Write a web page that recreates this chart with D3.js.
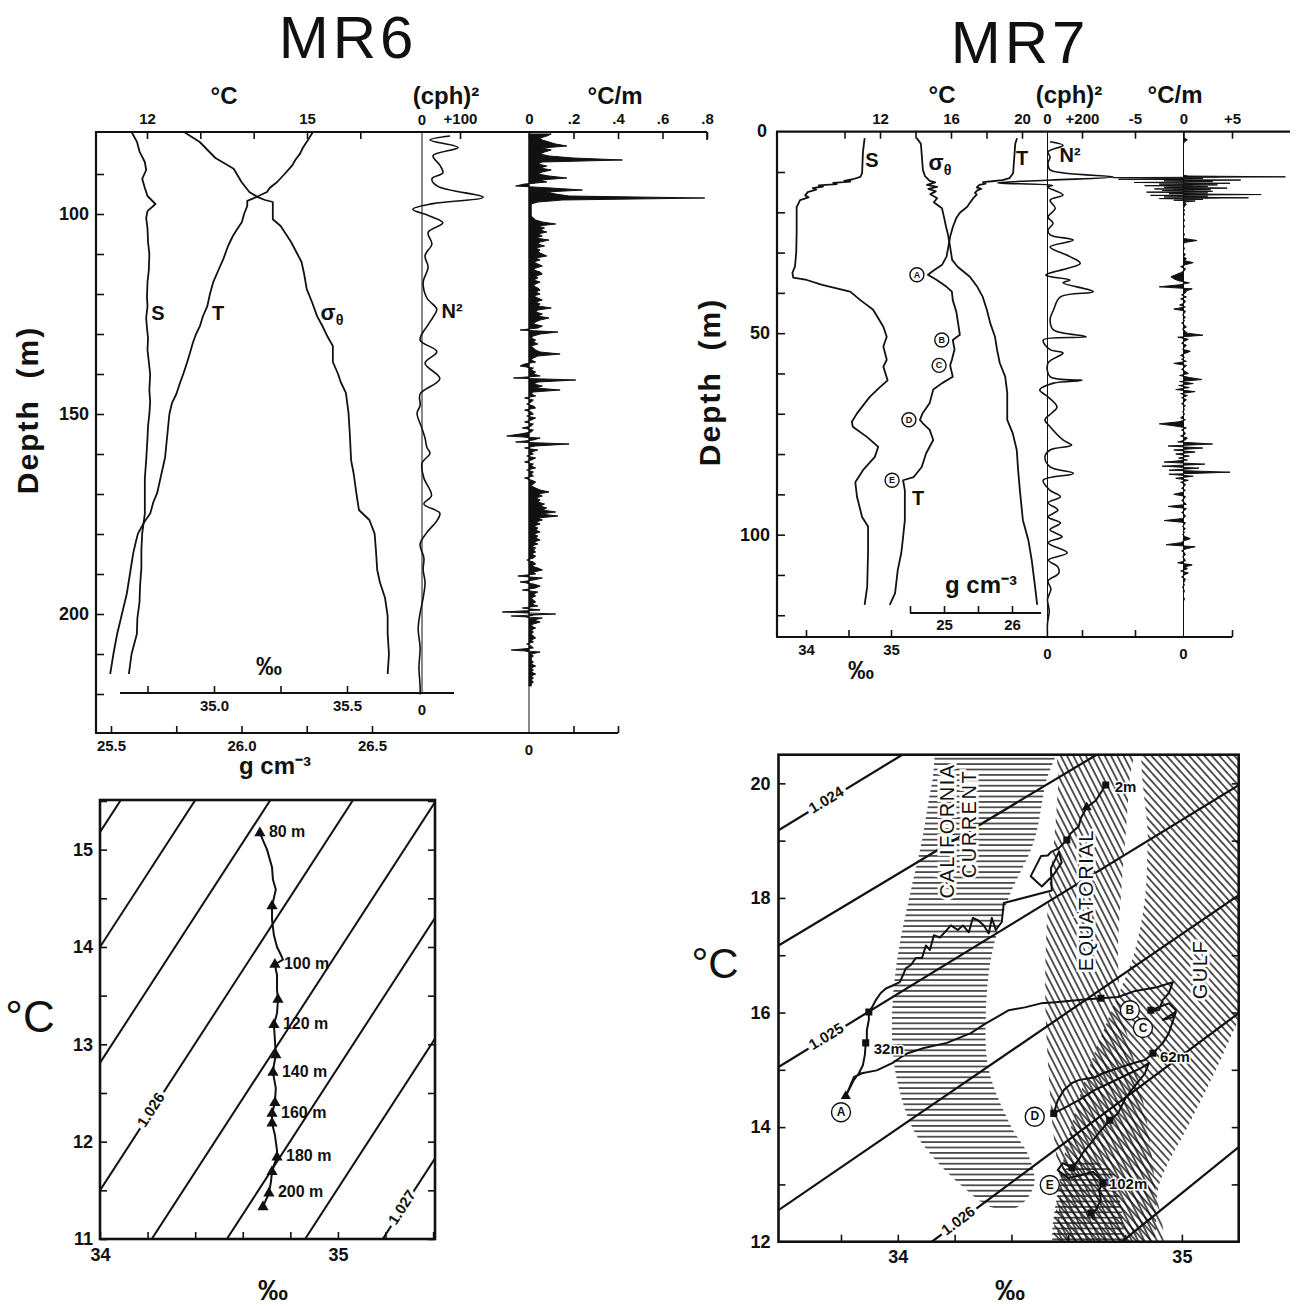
<!DOCTYPE html>
<html>
<head>
<meta charset="utf-8">
<script src="https://cdn.jsdelivr.net/npm/d3@7/dist/d3.min.js"></script>
<style>
  body { margin: 0; background: #fff; }
  text { font-family: "Liberation Sans", Arial, Helvetica, sans-serif; fill: #111; }
</style>
</head>
<body>
<svg id="fig"></svg>
<script>
const INK = '#111';
const W = 1299, H = 1306;

// ---------- MR6 profiles : [depth m, value] ----------
const mr6Temp = [
  [79.5, 15.11], [81.9, 15.0], [83.5, 14.92], [84.9, 14.87], [86.5, 14.78], [87.9, 14.72],
  [90, 14.58], [92, 14.44], [93.5, 14.3], [94.5, 14.25], [95.7, 14.06], [96.7, 13.88],
  [98, 13.88], [100, 13.82], [102, 13.78], [104, 13.68], [105.5, 13.61], [108, 13.52],
  [111.3, 13.43], [114, 13.34], [117.1, 13.24], [120, 13.18], [123.1, 13.13], [125.5, 13.05],
  [128.1, 12.99], [130, 12.92], [132.2, 12.86], [135, 12.8], [137.2, 12.75], [140, 12.68],
  [142.2, 12.62], [145, 12.55], [147.2, 12.47], [150, 12.42], [154, 12.39], [158, 12.36],
  [160.8, 12.34], [165, 12.27], [169.8, 12.19], [172, 12.12], [174.9, 12.06], [177, 11.95],
  [179.9, 11.83], [182, 11.79], [184.9, 11.74], [190, 11.68], [195, 11.62], [200, 11.53],
  [205, 11.44], [210, 11.37], [215, 11.31]
];
const mr6Sal = [
  [79.5, 34.69], [81.9, 34.71], [84.4, 34.72], [87, 34.74], [89, 34.745], [91.2, 34.73],
  [93.5, 34.74], [95.5, 34.75], [97.5, 34.78], [99.3, 34.75], [101, 34.745], [103.6, 34.75],
  [107, 34.752], [110, 34.757], [114, 34.755], [117, 34.75], [120.6, 34.748], [123.1, 34.75],
  [126, 34.745], [128.5, 34.748], [131, 34.752], [134, 34.75], [137, 34.755], [140, 34.76],
  [144, 34.757], [147, 34.76], [150, 34.757], [153, 34.752], [156, 34.75], [161.6, 34.745],
  [166, 34.74], [170, 34.74], [174.9, 34.74], [179.9, 34.73], [184, 34.727], [188.5, 34.727],
  [193, 34.722], [197, 34.72], [201, 34.712], [205, 34.71], [210, 34.69], [215, 34.68]
];
const mr6Sigma = [
  [79.5, 25.78], [82, 25.84], [84, 25.87], [86, 25.9], [88.7, 25.97], [92, 26.0],
  [94.5, 26.03], [95.7, 26.06], [96.5, 26.09], [97, 26.12], [98, 26.12], [101.3, 26.12],
  [103, 26.15], [105, 26.17], [107, 26.19], [109.5, 26.21], [112, 26.23], [115, 26.24],
  [118.8, 26.25], [122, 26.27], [125.6, 26.29], [128, 26.31], [130.7, 26.33], [133, 26.35],
  [137, 26.35], [140, 26.37], [142, 26.38], [144.7, 26.4], [149.7, 26.41], [155, 26.415],
  [161.6, 26.42], [165, 26.43], [169.8, 26.44], [174, 26.45], [176.5, 26.49], [179.9, 26.51],
  [184, 26.515], [189, 26.52], [192, 26.53], [196, 26.55], [200.5, 26.56], [205, 26.56],
  [210, 26.565], [215, 26.56]
];
const mr6N2 = [
  [80.5, 74], [81.5, 21], [83.4, 95], [85.4, 29], [87.8, 47], [89.7, 55], [91.2, 26],
  [93.1, 42], [95.8, 161], [97.4, 29], [98.8, -24], [100.5, 20], [102.2, 55], [104.6, 16],
  [107.5, 26], [110.4, 8], [113.3, 16], [117.1, 3], [121, 13], [123.8, 39], [125.8, 29],
  [127.7, 16], [131.5, -5], [134.4, 39], [137.3, 8], [141.2, 47], [145, -5], [147.9, -5],
  [149.8, -13], [153.6, 0], [156, 8], [158.4, 13], [159.8, 21], [162.3, 0], [166, 5],
  [170.4, 25], [172.5, 5], [174.8, 47], [176.7, 39], [179.6, 13], [182.5, -5], [186, 5],
  [189, 3], [192.1, 8], [196, 3], [199.8, -5], [203.6, -10], [208.5, -5], [213.3, -8],
  [218.1, -5], [220.1, -5]
];
// temperature gradient, °C/m, sampled every 0.5 m from 80 m
const mr6GradStart = 80, mr6GradStep = 0.5;
const mr6Grad = [
  0.10, 0.08, 0.05, 0.06, 0.09, 0.12, 0.17, 0.06, 0.10, 0.07,
  0.05, 0.09, 0.20, 0.42, 0.06, 0.04, 0.08, 0.05, 0.10, 0.06,
  0.04, 0.09, 0.17, 0.05, 0.08, -0.02, -0.06, 0.10, 0.24, 0.08,
  0.12, 0.18, 0.79, 0.15, 0.04, 0.01, 0.01, 0.01, 0.01, 0.01,
  0.01, 0.01, 0.02, 0.03, 0.06, 0.12, 0.04, 0.07, 0.05, 0.08,
  0.04, 0.06, 0.03, 0.09, 0.05, 0.04, 0.07, 0.03, 0.05, 0.04,
  0.06, 0.08, 0.03, 0.05, 0.02, 0.04, 0.06, 0.03, 0.02, 0.05,
  0.06, 0.03, 0.04, 0.02, 0.05, 0.03, 0.02, 0.04, 0.05, 0.03,
  0.05, 0.02, 0.04, 0.06, 0.03, 0.05, 0.04, 0.10, 0.04, 0.03,
  0.06, 0.04, 0.09, 0.05, 0.03, 0.02, 0.06, 0.04, -0.04, 0.13,
  0.05, 0.02, 0.01, 0.03, 0.02, 0.04, 0.01, 0.02, 0.03, 0.05,
  0.14, 0.04, 0.02, 0.01, 0.03, -0.02, -0.04, 0.02, 0.01, 0.03,
  0.02, 0.05, -0.07, 0.21, 0.04, 0.02, 0.06, 0.03, 0.14, 0.02,
  0.01, 0.03, -0.02, 0.02, 0.01, -0.01, 0.02, 0.03, -0.02, 0.01,
  0.02, -0.01, 0.03, 0.01, -0.02, 0.02, 0.01, -0.03, 0.02, 0.01,
  -0.04, -0.10, 0.05, 0.02, -0.06, 0.18, 0.03, -0.02, 0.04, 0.01,
  0.02, -0.01, 0.03, 0.01, -0.02, 0.02, 0.01, 0.03, -0.01, 0.02,
  0.01, 0.02, -0.02, 0.01, 0.03, 0.02, 0.01, 0.03, 0.05, 0.09,
  0.04, 0.06, 0.03, 0.05, 0.04, 0.07, 0.05, 0.08, 0.06, 0.12,
  0.05, 0.13, 0.04, 0.06, 0.03, 0.05, 0.02, 0.04, 0.03, 0.05,
  0.02, 0.04, 0.03, 0.05, 0.02, 0.04, 0.01, 0.03, 0.02, 0.03,
  0.01, 0.03, 0.02, -0.01, 0.02, 0.03, 0.01, 0.04, 0.06, 0.02,
  0.03, -0.05, 0.06, 0.02, -0.04, 0.02, 0.05, 0.03, -0.03, 0.04,
  0.02, 0.03, 0.01, 0.02, 0.03, 0.01, 0.04, -0.03, 0.05, -0.12,
  0.12, -0.08, 0.06, 0.02, 0.05, 0.02, 0.01, 0.03, 0.01, 0.02,
  0.01, 0.02, 0.03, 0.01, 0.02, -0.01, 0.01, 0.02, -0.08, 0.05,
  0.01, 0.02, 0.01, 0.01, 0.02, 0.01, 0.03, 0.01, 0.02, 0.01,
  0.03, 0.01, 0.02, 0.01, 0.02, 0.01, 0.01
];

// ---------- MR7 profiles ----------
const mr7Sal = [
  [1.6, 34.69], [5, 34.67], [10.3, 34.66], [11.2, 34.64], [11.8, 34.55], [12.2, 34.45],
  [12.4, 34.52], [12.7, 34.32], [13.0, 34.36], [13.3, 34.15], [13.6, 34.2], [14.0, 34.08],
  [14.4, 34.12], [15.0, 34.02], [15.8, 33.99], [16.3, 34.03], [17, 33.93], [18.7, 33.89],
  [25, 33.89], [30, 33.885], [33.5, 33.87], [35, 33.84], [36.2, 33.85], [36.8, 34.01],
  [38, 34.19], [39.7, 34.52], [41.8, 34.64], [44.2, 34.79], [48.4, 34.91], [50.9, 34.95],
  [53.3, 34.91], [56.6, 34.95], [58.3, 34.91], [61.7, 34.96], [63.4, 34.87], [65.8, 34.75],
  [69.9, 34.6], [72, 34.54], [73.2, 34.55], [75.8, 34.72], [78.2, 34.85], [80.7, 34.81],
  [84, 34.67], [87, 34.58], [90.6, 34.6], [95.6, 34.66], [98, 34.73], [104.5, 34.73],
  [112.9, 34.72], [117.4, 34.69]
];
const mr7Temp = [
  [1.6, 19.72], [3, 19.62], [10.3, 19.5], [11.5, 19.3], [12, 18.9], [12.3, 18.3],
  [12.5, 17.8], [12.9, 17.95], [13.2, 17.6], [13.8, 17.45], [14.2, 17.7], [14.5, 17.5],
  [15.2, 17.35], [15.6, 17.45], [16.5, 17.25], [18.7, 16.9], [20.1, 16.5], [21.4, 16.3],
  [23.7, 16.1], [26.1, 15.95], [28.6, 15.85], [31, 15.75], [33, 15.5], [34.5, 15.0],
  [35.5, 14.7], [36.8, 15.2], [38.5, 15.75], [39.7, 16.05], [41.8, 16.1], [44.7, 16.3],
  [47.5, 16.4], [50.4, 16.5], [51.7, 16.1], [54, 16.2], [56.6, 16.05], [58, 15.95],
  [60.8, 16.1], [62.4, 15.5], [64, 15.0], [67.3, 14.8], [69.9, 14.4], [71.5, 14.25],
  [72.3, 14.4], [74, 14.8], [76.5, 15.0], [79.8, 14.6], [83.2, 14.35], [85.7, 13.9],
  [86.5, 13.3], [89, 13.4], [96.4, 13.4], [100.6, 13.3], [104.5, 13.2], [108.8, 13.0],
  [114.5, 12.85], [117.4, 12.55]
];
const mr7Sigma = [
  [1.6, 24.6], [3, 24.66], [9.5, 24.69], [11, 24.72], [12.2, 24.79], [12.6, 24.87],
  [13.2, 24.75], [13.7, 24.9], [14.2, 24.77], [14.8, 24.88], [15.5, 24.8], [16.5, 24.9],
  [17.5, 24.85], [19, 24.97], [21.2, 25.0], [23.6, 25.03], [25.6, 25.06], [28.6, 25.09],
  [31.8, 25.12], [33.5, 25.2], [36, 25.38], [38.5, 25.49], [41, 25.57], [44.2, 25.63],
  [47.5, 25.68], [50.9, 25.75], [54.1, 25.78], [57.4, 25.82], [60.8, 25.9], [64.8, 25.93],
  [71.5, 25.93], [74.8, 26.01], [79, 26.07], [84, 26.09], [89.7, 26.12], [96.4, 26.16],
  [101.3, 26.24], [106.3, 26.29], [113, 26.34], [117.4, 26.37]
];
const mr7N2 = [
  [2.5, 15], [3.4, 90], [5, 3], [6.3, 15], [7.8, 3], [9.5, 15], [11.2, 380], [12, 20],
  [12.7, -290], [13.3, 30], [13.7, 0], [15.7, 90], [17, 15], [19, 45], [21.2, 3], [22.7, 32],
  [24.4, 3], [25.6, 15], [26.9, 150], [28.6, 15], [31, 130], [32.7, 190], [35.6, -10],
  [36.8, 130], [37.5, 90], [39.7, 265], [41, 75], [44.2, 35], [46.7, 15], [49.2, 35],
  [50.9, 225], [51.7, -25], [54.1, 15], [54.9, 90], [57.4, 3], [60.8, 15], [61.7, 200],
  [62.4, 35], [64.1, -45], [65.8, 3], [68.3, 55], [69.8, 25], [71.5, -15], [73.2, 15],
  [76.5, 90], [77.8, 140], [79, 15], [80.7, -15], [83.2, 15], [84.8, 150], [86.5, -25],
  [89, 15], [90.6, 75], [92.1, 3], [93.9, 60], [95.6, 3], [97.1, 75], [98.8, 15],
  [100.5, 85], [102, 3], [104.5, 115], [106.3, 5], [108, 60], [109.6, 65], [111.5, 3],
  [113.5, 20], [116, 0], [119, 10], [122, 0], [125.4, 0]
];
// gradient every 0.5 m from 0 m (the thermocline burst is in its own finer series)
const mr7GradStart = 0, mr7GradStep = 0.5;
const mr7Grad = [
  0, 0, 0, 0, 0.4, 0.1, 0, 0, 0, 0,
  0, 0, 0, 0, 0, 0, 0, 0, 0, 0,
  0, 0, 0, 0, 0, 0, 0, 0, 0, 0,
  0, 0, 0, 0, 0, 0, 0.3, 0.1, 0, 0.1,
  0, 0.1, 0, 0, 0.1, 0, 0, 0.1, 0, 0,
  0, 0.1, 0, 0, 1.4, 0.1, 0, 0, 0.1, 0,
  0, 0.2, 0, 0.3, 0.1, 1.0, 0.2, -0.3, 0.2, 0.1,
  -0.3, -0.8, -1.3, -1.0, -0.5, 0.6, -0.4, -2.5, 0.9, 0.3,
  0.2, -0.2, 0.3, -0.3, 0.2, 0.1, -0.4, 0.2, -1.0, 0.2,
  0.1, -0.1, 0.2, 0, 0.1, -0.2, 0.1, 0.3, -0.1, 0.2,
  0.4, 2.0, -0.6, 0.5, 0.1, -0.2, 0.3, 0.1, -0.1, 0.7,
  0.2, -0.3, 0.1, -0.2, 0.3, -1.0, 0.3, 0.1, -0.2, 0.2,
  0.5, -0.4, 0.6, 1.9, -0.4, 1.0, -0.5, 0.6, -0.8, 1.2,
  -0.3, 0.4, -0.2, 0.3, 0.1, -0.2, 0.2, 0, 0.1, -0.1,
  0.1, 0, -0.3, 0.2, -0.5, -2.5, -1.0, 0.3, -0.2, 0.1,
  0.2, -0.3, 0.4, 0.2, -0.6, 3.0, -1.6, 2.0, -1.0, 1.2,
  -0.8, 0.6, -0.5, 0.4, -2.0, 2.2, -2.2, 1.6, -1.5, 4.8,
  -1.5, 1.0, -0.8, 0.5, -0.3, 0.2, 0.1, -0.2, 0.2, -0.1,
  -1.0, 0.2, 0.1, -0.2, 0.1, 0.3, -1.6, 0.3, 0.1, -0.2,
  0.1, 0.2, -0.1, -2.0, 0.2, 0.1, -0.1, 0.2, 0, 0.1,
  -0.1, 0.2, 0.7, 0.1, -0.3, -1.8, 1.2, 0.3, -0.2, 0.1,
  0.2, -0.1, 0.1, 0.2, -0.6, 0.9, 0.2, 0.4, -0.3, 0.5,
  0.1, -0.2, 0.2, 0.1, 0, 0.1, -0.1, 0, 0.1, 0,
  0, 0, 0.1, 0, 0, 0, 0
];
// thermocline burst, every 0.2 m from 10.8 m
const mr7BurstStart = 10.8, mr7BurstStep = 0.2;
const mr7Burst = [
  0, 0.5, 10.5, -7.3, 2.0, -6.7, 5.9, -2.0, 3.0, -5.1,
  4.8, -2.5, 3.5, -4.0, 2.5, -2.0, 4.5, -3.0, 2.8, -2.2,
  3.0, -3.8, 2.5, -1.5, 8.0, -3.4, 2.5, -2.0, 6.7, -2.5,
  2.0, -1.0, 1.2, 0.3, 0
];
const mr7Letters = ['A', 'B', 'C', 'D', 'E'];
const mr7LetterDepths = [35.5, 51.7, 58, 71.5, 86.5];

// ---------- MR6 T-S diagram : [salinity, temperature, marker] ----------
const ts6 = [
  [34.672, 15.17, 1], [34.702, 15.0], [34.723, 14.82], [34.727, 14.69], [34.739, 14.59],
  [34.723, 14.42, 1], [34.723, 14.28], [34.731, 14.12], [34.744, 14.0], [34.76, 13.92],
  [34.769, 13.87], [34.735, 13.82, 1], [34.744, 13.71], [34.744, 13.56], [34.748, 13.46, 1],
  [34.744, 13.32], [34.731, 13.2, 1], [34.735, 13.05], [34.739, 12.89, 1], [34.731, 12.79],
  [34.727, 12.71, 1], [34.739, 12.55], [34.735, 12.4, 1], [34.723, 12.29, 1], [34.723, 12.19, 1],
  [34.735, 12.07], [34.744, 11.91], [34.744, 11.84, 1], [34.731, 11.76], [34.723, 11.69, 1],
  [34.718, 11.58], [34.71, 11.47, 1], [34.697, 11.4], [34.685, 11.33, 1]
];
const ts6DepthLabels = ['80 m', '100 m', '120 m', '140 m', '160 m', '180 m', '200 m'];
const ts6DepthIndex = [0, 11, 16, 20, 23, 27, 31];
const iso6Intercepts = [15.18, 14.0, 12.81, 11.5, 10.18, 8.99, 7.75, 6.52]; // T at S = 34
const iso6Slope = 3.77; // °C per ‰
const iso6Labels = [[3, '1.026', 34.218], [7, '1.027', 35.273]];

// ---------- MR7 T-S diagram ----------
const ts7 = [
  [34.732, 19.97, 1], [34.697, 19.7], [34.665, 19.58, 2], [34.644, 19.39], [34.637, 19.25],
  [34.609, 19.13], [34.595, 19.01, 1], [34.567, 18.87], [34.539, 18.8], [34.528, 18.74],
  [34.504, 18.73], [34.468, 18.38], [34.507, 18.2], [34.549, 18.41], [34.577, 18.62],
  [34.567, 18.8], [34.539, 18.52], [34.542, 18.13], [34.373, 17.91], [34.366, 17.58],
  [34.345, 17.44], [34.331, 17.65], [34.32, 17.38], [34.303, 17.52], [34.282, 17.61],
  [34.264, 17.65], [34.25, 17.4], [34.229, 17.52], [34.211, 17.44], [34.187, 17.52],
  [34.165, 17.4], [34.148, 17.31], [34.127, 17.35], [34.113, 17.09], [34.099, 17.17],
  [34.085, 16.95], [34.063, 16.95], [34.046, 16.83], [34.028, 16.77], [34.018, 16.65],
  [34.007, 16.53], [33.986, 16.48], [33.958, 16.42], [33.94, 16.34], [33.923, 16.22],
  [33.908, 16.08], [33.898, 16.01, 1], [33.898, 15.87], [33.891, 15.69], [33.891, 15.52],
  [33.887, 15.47, 1], [33.884, 15.26], [33.877, 15.08], [33.863, 14.94], [33.845, 14.82],
  [33.831, 14.68], [33.817, 14.54, 2], [33.845, 14.87], [33.873, 14.94], [33.926, 14.99],
  [33.982, 15.12], [34.011, 15.22], [34.035, 15.29], [34.092, 15.38], [34.173, 15.47],
  [34.257, 15.64], [34.31, 15.81], [34.391, 16.04], [34.447, 16.09], [34.504, 16.16],
  [34.556, 16.18], [34.637, 16.22], [34.715, 16.25, 1], [34.775, 16.27], [34.831, 16.37],
  [34.912, 16.44], [34.968, 16.53], [34.954, 16.34], [34.933, 16.22], [34.919, 16.04],
  [34.891, 16.04, 1], [34.954, 16.16], [34.979, 16.04], [34.968, 15.92], [34.933, 15.87],
  [34.979, 16.01], [34.954, 15.64], [34.933, 15.47], [34.898, 15.29, 1], [34.87, 15.17],
  [34.831, 15.12], [34.775, 15.03], [34.722, 14.94], [34.694, 14.87], [34.637, 14.82],
  [34.613, 14.77], [34.585, 14.65], [34.563, 14.47], [34.549, 14.24, 1], [34.585, 14.33],
  [34.637, 14.47], [34.694, 14.65], [34.746, 14.77], [34.817, 14.94], [34.856, 15.03],
  [34.884, 15.12], [34.87, 14.94], [34.831, 14.7], [34.803, 14.52], [34.775, 14.24],
  [34.746, 14.12, 1], [34.708, 13.9], [34.68, 13.72], [34.651, 13.55], [34.637, 13.43],
  [34.613, 13.29, 1], [34.581, 13.37], [34.563, 13.25], [34.599, 13.11], [34.644, 13.16],
  [34.687, 13.22], [34.715, 13.08], [34.722, 13.02, 1], [34.708, 12.9], [34.715, 12.73],
  [34.697, 12.55], [34.68, 12.5, 1], [34.69, 12.38]
];
// depth labels: [text, S, T, dx, dy]
const ts7DepthLabels = [
  ['2m', 34.732, 19.97, 9, 3], ['32m', 33.887, 15.47, 8, 7],
  ['62m', 34.898, 15.29, 7, 5], ['102m', 34.722, 13.02, 6, 2]
];
const ts7Letters = [['A', 33.80, 14.26], ['B', 34.817, 16.04], ['C', 34.863, 15.73],
                    ['D', 34.482, 14.18], ['E', 34.535, 12.99]];
// isopycnal segments [S1, T1, S2, T2]
const iso7 = [
  [33.58, 19.18, 34.016, 20.5], [33.58, 17.17, 34.70, 20.5], [33.58, 15.05, 35.2, 19.97],
  [33.58, 12.55, 35.2, 18.05], [34.12, 12.0, 35.2, 15.99], [34.789, 12.0, 35.2, 13.65]
];
const iso7Labels = [[0, '1.024', 33.75], [2, '1.025', 33.75], [4, '1.026', 34.215]];
// water masses: rows [T, S left, S right]
const caliCurrent = [
  [21, 34.17, 34.57], [20, 34.12, 34.52], [19, 34.085, 34.48], [18, 34.04, 34.39],
  [17, 34.0, 34.33], [16, 33.98, 34.31], [15, 33.99, 34.32], [14, 34.05, 34.4],
  [13.5, 34.12, 34.46], [13, 34.22, 34.48], [12.6, 34.33, 34.42]
];
const equatorial = [
  [21, 34.575, 34.825], [20, 34.565, 34.815], [19, 34.55, 34.8], [18, 34.53, 34.785],
  [17, 34.52, 34.775], [16, 34.52, 34.79], [15, 34.53, 34.84], [14, 34.545, 34.88],
  [13, 34.57, 34.905], [11.8, 34.585, 34.92]
];
const gulf = [
  [21, 34.89, 35.3], [19, 34.88, 35.3], [18, 34.87, 35.3], [17, 34.83, 35.3],
  [16, 34.75, 35.21], [15, 34.67, 35.12], [14, 34.61, 35.02], [13, 34.57, 34.92],
  [11.8, 34.57, 34.88]
];
const lowHatch = [
  [13.4, 34.63, 34.69], [13.2, 34.58, 34.76], [12.8, 34.56, 34.78], [11.8, 34.56, 34.78]
];
const massLabels = [['CALIFORNIA', 34.18, 19.17], ['CURRENT', 34.257, 19.29],
                    ['EQUATORIAL', 34.67, 17.96], ['GULF', 35.07, 16.75]];

// ================= drawing =================
const svg = d3.select('#fig').attr('width', W).attr('height', H);
svg.append('rect').attr('width', W).attr('height', H).attr('fill', '#fff');
const defs = svg.append('defs');

function txt(g, x, y, s, size, o = {}) {
  const t = g.append('text').attr('x', x).attr('y', y)
    .attr('font-size', size).attr('font-weight', o.weight || 'bold')
    .attr('text-anchor', o.anchor || 'middle')
    .text(s);
  if (!o.baseline) t.attr('dominant-baseline', 'middle');
  if (o.rotate != null) t.attr('transform', `rotate(${o.rotate},${x},${y})`);
  if (o.spacing) t.attr('letter-spacing', o.spacing);
  if (o.halo) t.attr('stroke', '#fff').attr('stroke-width', o.halo).attr('paint-order', 'stroke');
  return t;
}
function rule(g, x1, y1, x2, y2, w) {
  g.append('line').attr('x1', x1).attr('y1', y1).attr('x2', x2).attr('y2', y2)
    .attr('stroke', INK).attr('stroke-width', w || 2);
}
function axis(g, orient, scale, pos, values, fmt, size, pad, fs) {
  const mk = { left: d3.axisLeft, right: d3.axisRight, top: d3.axisTop, bottom: d3.axisBottom }[orient];
  const a = mk(scale).tickValues(values).tickSize(-size).tickSizeOuter(0).tickPadding(pad).tickFormat(fmt);
  const vert = orient === 'left' || orient === 'right';
  const ag = g.append('g').attr('transform', vert ? `translate(${pos},0)` : `translate(0,${pos})`).call(a);
  ag.select('.domain').remove();
  ag.selectAll('.tick line').attr('stroke', INK).attr('stroke-width', 1.6);
  ag.selectAll('.tick text').attr('font-size', fs).attr('font-weight', 'bold');
  return ag;
}
function profile(g, data, xs, ys, w, curve) {
  g.append('path').datum(data)
    .attr('d', d3.line().x(d => xs(d[1])).y(d => ys(d[0])).curve(curve || d3.curveLinear))
    .attr('fill', 'none').attr('stroke', INK).attr('stroke-width', w).attr('stroke-linejoin', 'round');
}
function spikes(g, start, step, vals, xs, ys) {
  const pts = vals.map((v, i) => [start + i * step, v]);
  g.append('path').datum(pts)
    .attr('d', d3.area().y(d => ys(d[0])).x0(xs(0)).x1(d => xs(d[1])))
    .attr('fill', INK).attr('stroke', INK).attr('stroke-width', 1).attr('stroke-linejoin', 'round');
}
function sigmaLabel(g, x, y, size) {
  const t = g.append('text').attr('x', x).attr('y', y).attr('font-size', size)
    .attr('font-weight', 'bold').attr('text-anchor', 'middle').attr('dominant-baseline', 'middle');
  t.append('tspan').text('σ');
  t.append('tspan').attr('font-size', size * 0.65).attr('dy', size * 0.3).text('θ');
}
function circled(g, x, y, r, s, fs) {
  g.append('circle').attr('cx', x).attr('cy', y).attr('r', r)
    .attr('fill', '#fff').attr('stroke', INK).attr('stroke-width', 1.4);
  txt(g, x, y + 0.5, s, fs);
}

// ---------- titles ----------
txt(svg, 348, 58, 'MR6', 60, { weight: 'normal', spacing: 4, baseline: true });
txt(svg, 1020, 63, 'MR7', 60, { weight: 'normal', spacing: 4, baseline: true });

// ================= Panel 1 : MR6 profiles =================
{
  const g = svg.append('g');
  const y = d3.scaleLinear().domain([79.5, 229.75]).range([132, 733]);
  const xT = d3.scaleLinear().domain([12, 15]).range([147, 307]);
  const xS = d3.scaleLinear().domain([35, 35.5]).range([214, 347]);
  const xSig = d3.scaleLinear().domain([25.5, 26.5]).range([111, 372]);
  const xN = d3.scaleLinear().domain([0, 100]).range([422, 460]);
  const xG = d3.scaleLinear().domain([0, 0.8]).range([529, 707]);

  rule(g, 96, 132, 96, 733, 2.2);
  rule(g, 95, 132, xG(0.8), 132, 2.2);
  rule(g, 95, 733, xG(0.4), 733, 2.2);
  rule(g, 120, 693, 454, 693, 2);
  rule(g, xN(0), 132, xN(0), 693, 1);
  rule(g, xG(0), 132, xG(0), 733, 1);

  axis(g, 'left', y, 96, d3.range(90, 230, 10), d => d % 50 === 0 ? d : '', 8, 7, 18);
  axis(g, 'top', xT, 132, [12, 13, 14, 15, 16], d => (d === 12 || d === 15) ? d : '', 7, 8, 15);
  axis(g, 'top', xN, 132, [100], () => '+100', 7, 8, 15);
  txt(g, xN(0), 121, '0', 15);
  axis(g, 'top', xG, 132, [0, 0.2, 0.4, 0.6, 0.8], d => d === 0 ? '0' : '.' + Math.round(d * 10), 7, 8, 15);
  g.append('line').attr('x1', xG(0.8)).attr('x2', xG(0.8)).attr('y1', 132).attr('y2', 140)
    .attr('stroke', INK).attr('stroke-width', 1.6);
  axis(g, 'bottom', xS, 693, [34.75, 35, 35.25, 35.5], d => (d === 35 || d === 35.5) ? d.toFixed(1) : '', 7, 7, 15);
  txt(g, xN(0), 711, '0', 15);
  axis(g, 'bottom', xSig, 733, [25.5, 25.75, 26, 26.25, 26.5],
    d => [25.5, 26, 26.5].includes(d) ? d.toFixed(1) : '', 7, 7, 15);
  axis(g, 'bottom', xG, 733, [0.2, 0.4], () => '', 7, 7, 15);
  txt(g, xG(0), 751, '0', 15);

  txt(g, 224, 98, '°C', 24);
  txt(g, 446, 98, '(cph)²', 24);
  txt(g, 615, 98, '°C/m', 24);
  txt(g, 269, 668, '‰', 26);
  txt(g, 275, 768, 'g cm⁻³', 24);
  txt(g, 30, 410, 'Depth\u00a0\u00a0(m)', 30, { rotate: -90, spacing: 2 });

  profile(g, mr6Sal, xS, y, 1.8);
  profile(g, mr6Temp, xT, y, 1.8);
  profile(g, mr6Sigma, xSig, y, 1.8);
  profile(g, mr6N2, xN, y, 1.6, d3.curveCatmullRom);
  spikes(g, mr6GradStart, mr6GradStep, mr6Grad, xG, y);

  txt(g, 158, 315, 'S', 20);
  txt(g, 218, 315, 'T', 20);
  sigmaLabel(g, 332, 314, 22);
  txt(g, 452, 313, 'N²', 20);
}

// ================= Panel 2 : MR7 profiles =================
{
  const g = svg.append('g');
  const y = d3.scaleLinear().domain([0, 125.4]).range([131.7, 637]);
  const xT = d3.scaleLinear().domain([12, 20]).range([880, 1022]);
  const xS = d3.scaleLinear().domain([34, 35]).range([806, 891]);
  const xSig = d3.scaleLinear().domain([25, 26]).range([944, 1012]);
  const xN = d3.scaleLinear().domain([0, 200]).range([1047.5, 1082]);
  const xG = d3.scaleLinear().domain([-5, 5]).range([1135, 1232]);

  rule(g, 777, 131.7, 777, 637, 2.2);
  rule(g, 776, 131.7, 1290, 131.7, 2.2);
  rule(g, 776, 637, xG(5), 637, 2.2);
  rule(g, xN(0), 131.7, xN(0), 637, 1);
  rule(g, xG(0), 131.7, xG(0), 637, 1);
  rule(g, xSig(24.5), 613, 1041, 613, 1.8);

  axis(g, 'left', y, 777, d3.range(10, 130, 10), d => d % 50 === 0 ? d : '', 8, 7, 18);
  txt(g, 762, 132, '0', 18);
  axis(g, 'top', xT, 131.7, [10, 12, 14, 16, 18, 20], d => (d % 4 === 0) ? d : '', 7, 8, 15);
  axis(g, 'top', xN, 131.7, [200], () => '+200', 7, 8, 15);
  txt(g, xN(0), 120, '0', 15);
  axis(g, 'top', xG, 131.7, [-5, 0, 5], d => d === 0 ? '0' : (d > 0 ? '+5' : '-5'), 7, 8, 15);
  axis(g, 'bottom', xS, 637, [34, 34.5, 35], d => d % 1 === 0 ? d : '', 7, 7, 15);
  axis(g, 'bottom', xN, 637, [200], () => '', 7, 7, 15);
  axis(g, 'bottom', xG, 637, [-5, 5], () => '', 7, 7, 15);
  txt(g, xN(0), 655, '0', 15);
  txt(g, xG(0), 655, '0', 15);
  axis(g, 'bottom', xSig, 613, [24.5, 25, 25.5, 26], d => d % 1 === 0 ? d : '', 7, 6, 15);

  txt(g, 942, 97, '°C', 24);
  txt(g, 1069, 97, '(cph)²', 24);
  txt(g, 1175, 97, '°C/m', 24);
  txt(g, 861, 672, '‰', 26);
  txt(g, 981, 587, 'g cm⁻³', 24);
  txt(g, 712, 382, 'Depth\u00a0\u00a0(m)', 30, { rotate: -90, spacing: 2 });

  profile(g, mr7Sal, xS, y, 1.8);
  profile(g, mr7Sigma, xSig, y, 1.8);
  profile(g, mr7Temp, xT, y, 1.8);
  profile(g, mr7N2, xN, y, 1.6, d3.curveCatmullRom);
  spikes(g, mr7GradStart, mr7GradStep, mr7Grad, xG, y);
  spikes(g, mr7BurstStart, mr7BurstStep, mr7Burst, xG, y);

  const tAt = d3.scaleLinear().domain(mr7Temp.map(d => d[0])).range(mr7Temp.map(d => d[1]));
  mr7LetterDepths.forEach((d, i) => circled(g, xT(tAt(d)) - 11, y(d), 7, mr7Letters[i], 9));

  txt(g, 872, 162, 'S', 20);
  sigmaLabel(g, 940, 164, 22);
  txt(g, 1022, 160, 'T', 20);
  txt(g, 1070, 157, 'N²', 20);
  txt(g, 918, 500, 'T', 20);
}

// ================= Panel 3 : MR6 T-S =================
{
  const g = svg.append('g');
  const x = d3.scaleLinear().domain([34, 35.408]).range([100, 435]);
  const y = d3.scaleLinear().domain([11, 15.51]).range([1239, 800]);
  defs.append('clipPath').attr('id', 'clip3').append('rect')
    .attr('x', 100).attr('y', 800).attr('width', 335).attr('height', 439);
  const c = g.append('g').attr('clip-path', 'url(#clip3)');

  iso6Intercepts.forEach(t0 => {
    c.append('line').attr('x1', x(33.8)).attr('y1', y(t0 + iso6Slope * -0.2))
      .attr('x2', x(35.6)).attr('y2', y(t0 + iso6Slope * 1.6))
      .attr('stroke', INK).attr('stroke-width', 2);
  });
  const ang = Math.atan2(y(iso6Slope) - y(0), x(35) - x(34)) * 180 / Math.PI;
  iso6Labels.forEach(([i, s, S]) => {
    const T = iso6Intercepts[i] + iso6Slope * (S - 34);
    txt(c, x(S), y(T), s, 15, { rotate: ang, halo: 7 });
  });

  c.append('path').datum(ts6)
    .attr('d', d3.line().x(d => x(d[0])).y(d => y(d[1])))
    .attr('fill', 'none').attr('stroke', INK).attr('stroke-width', 2).attr('stroke-linejoin', 'round');
  c.selectAll('.tri').data(ts6.filter(d => d[2])).join('path')
    .attr('d', d3.symbol(d3.symbolTriangle).size(55))
    .attr('transform', d => `translate(${x(d[0])},${y(d[1])})`).attr('fill', INK);
  ts6DepthIndex.forEach((k, i) => {
    txt(g, x(ts6[k][0]) + 9, y(ts6[k][1]), ts6DepthLabels[i], 16, { anchor: 'start' });
  });

  g.append('rect').attr('x', 100).attr('y', 800).attr('width', 335).attr('height', 439)
    .attr('fill', 'none').attr('stroke', INK).attr('stroke-width', 2.6);
  const tv = [11, 11.5, 12, 12.5, 13, 13.5, 14, 14.5, 15, 15.5];
  axis(g, 'left', y, 100, tv, d => d % 1 === 0 ? d : '', 7, 7, 18);
  axis(g, 'right', y, 435, tv, () => '', 7, 0, 1);
  axis(g, 'bottom', x, 1239, [34, 34.2, 34.4, 34.6, 34.8, 35, 35.2, 35.4],
    d => (d === 34 || d === 35) ? d : '', 7, 9, 18);
  txt(g, 30, 1020, '°C', 44, { weight: 'normal' });
  txt(g, 273, 1292, '‰', 30);
}

// ================= Panel 4 : MR7 T-S =================
{
  const g = svg.append('g');
  const x = d3.scaleLinear().domain([33.58, 35.2]).range([778.5, 1238.7]);
  const y = d3.scaleLinear().domain([12, 20.5]).range([1241.7, 754.7]);
  const fw = x(35.2) - x(33.58), fh = y(12) - y(20.5);
  defs.append('clipPath').attr('id', 'clip4').append('rect')
    .attr('x', x(33.58)).attr('y', y(20.5)).attr('width', fw).attr('height', fh);

  function hatch(id, gap, angle, w) {
    const p = defs.append('pattern').attr('id', id).attr('patternUnits', 'userSpaceOnUse')
      .attr('width', 40).attr('height', gap).attr('patternTransform', `rotate(${angle})`);
    p.append('line').attr('x1', 0).attr('y1', gap / 2).attr('x2', 40).attr('y2', gap / 2)
      .attr('stroke', INK).attr('stroke-width', w);
  }
  hatch('hz', 5.4, 0, 1.3);
  hatch('eqh', 5.6, 63, 1.2);
  hatch('gfh', 5.6, 48, 1.2);

  const c = g.append('g').attr('clip-path', 'url(#clip4)');
  const band = rows => rows.map(r => [r[1], r[0]]).concat(rows.slice().reverse().map(r => [r[2], r[0]]));
  const shape = d3.line().x(d => x(d[0])).y(d => y(d[1])).curve(d3.curveCatmullRomClosed.alpha(0.5));
  c.append('path').attr('d', shape(band(caliCurrent))).attr('fill', 'url(#hz)');
  c.append('path').attr('d', shape(band(lowHatch))).attr('fill', 'url(#hz)');
  c.append('path').attr('d', shape(band(equatorial))).attr('fill', 'url(#eqh)');
  c.append('path').attr('d', shape(band(gulf))).attr('fill', 'url(#gfh)');

  iso7.forEach(s => {
    c.append('line').attr('x1', x(s[0])).attr('y1', y(s[1])).attr('x2', x(s[2])).attr('y2', y(s[3]))
      .attr('stroke', INK).attr('stroke-width', 2.2);
  });
  iso7Labels.forEach(([i, s, S]) => {
    const L = iso7[i];
    const T = L[1] + (L[3] - L[1]) * (S - L[0]) / (L[2] - L[0]);
    const a = Math.atan2(y(L[3]) - y(L[1]), x(L[2]) - x(L[0])) * 180 / Math.PI;
    txt(c, x(S), y(T), s, 15, { rotate: a, halo: 7 });
  });
  massLabels.forEach(([s, S, T]) => txt(c, x(S), y(T), s, 20, { rotate: -90, spacing: 1.5, halo: 5, weight: 'normal' }));

  c.append('path').datum(ts7)
    .attr('d', d3.line().x(d => x(d[0])).y(d => y(d[1])))
    .attr('fill', 'none').attr('stroke', INK).attr('stroke-width', 2).attr('stroke-linejoin', 'round');
  c.selectAll('.mk').data(ts7.filter(d => d[2])).join('path')
    .attr('d', d => d3.symbol(d[2] === 1 ? d3.symbolSquare : d3.symbolTriangle).size(d[2] === 1 ? 50 : 45)())
    .attr('transform', d => `translate(${x(d[0])},${y(d[1])})`).attr('fill', INK);
  ts7DepthLabels.forEach(([s, S, T, dx, dy]) => txt(c, x(S) + dx, y(T) + dy, s, 15, { anchor: 'start', halo: 3 }));
  ts7Letters.forEach(([s, S, T]) => circled(c, x(S), y(T), 9.5, s, 12));

  g.append('rect').attr('x', x(33.58)).attr('y', y(20.5)).attr('width', fw).attr('height', fh)
    .attr('fill', 'none').attr('stroke', INK).attr('stroke-width', 2.6);
  const tv = [13, 14, 15, 16, 17, 18, 19, 20];
  axis(g, 'left', y, x(33.58), [12].concat(tv), d => d % 2 === 0 ? d : '', 7, 8, 18);
  axis(g, 'right', y, x(35.2), tv, () => '', 7, 0, 1);
  axis(g, 'bottom', x, y(12), [33.8, 34, 34.2, 34.4, 34.6, 34.8, 35],
    d => (d === 34 || d === 35) ? d : '', 7, 9, 18);
  txt(g, 715, 967, '°C', 42, { weight: 'normal' });
  txt(g, 1010, 1292, '‰', 30);
}
</script>
</body>
</html>
